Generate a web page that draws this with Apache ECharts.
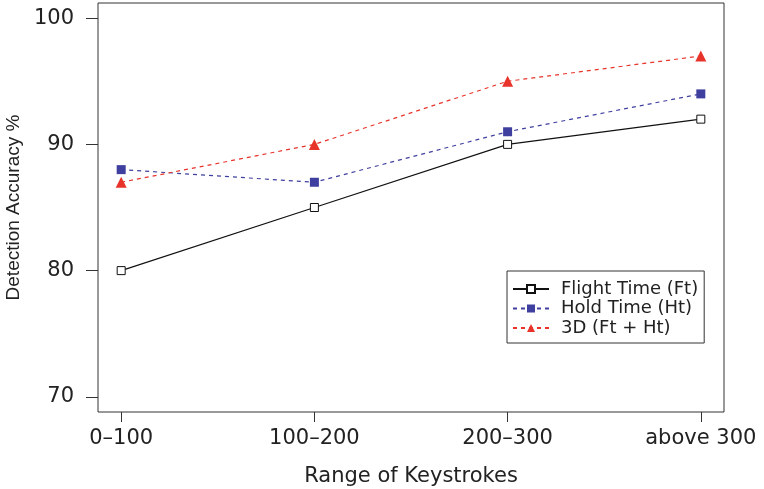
<!DOCTYPE html>
<html>
<head>
<meta charset="utf-8">
<script src="https://cdn.jsdelivr.net/npm/echarts@6/dist/echarts.min.js"></script>
<style>html,body{margin:0;padding:0;background:#fff}#c{width:764px;height:489px}</style>
</head>
<body>
<div id="c"></div>
<script>
const categories = ['0\u2013100', '100\u2013200', '200\u2013300', 'above 300'];
const flightTime = [80, 85, 90, 92];
const holdTime = [88, 87, 91, 94];
const threeD = [87, 90, 95, 97];
const yTicks = [70, 80, 90, 100];
const seriesNames = ['Flight Time (Ft)', 'Hold Time (Ht)', '3D (Ft + Ht)'];

const xPos = categories.map((c, i) => i + 1);
const toPts = arr => arr.map((v, i) => [xPos[i], v]);

const font = 'DejaVu Sans';
const chart = echarts.init(document.getElementById('c'), null, {renderer: 'canvas'});
chart.setOption({
  animation: false,
  backgroundColor: '#fff',
  grid: {left: 98, right: 40, top: 3, bottom: 77, outerBoundsMode: 'none', containLabel: false,
    show: true, borderColor: '#333', borderWidth: 1, backgroundColor: 'transparent'},
  xAxis: {
    type: 'value', min: 0.88, max: 4.12,
    name: 'Range of Keystrokes', nameLocation: 'middle', nameGap: 54,
    nameTextStyle: {fontFamily: font, fontSize: 21, color: '#222'},
    axisLine: {show: false},
    splitLine: {show: false},
    axisTick: {show: true, length: 10, lineStyle: {color: '#333'}, customValues: xPos},
    axisLabel: {margin: 16, fontFamily: font, fontSize: 21, color: '#222', customValues: xPos,
      formatter: v => categories[Math.round(v) - 1] || ''}
  },
  yAxis: {
    type: 'value', min: 68.8, max: 101.2,
    name: 'Detection Accuracy %', nameLocation: 'middle', nameGap: 66, nameRotate: 90,
    nameTextStyle: {fontFamily: 'Liberation Sans', fontSize: 19, color: '#222'},
    axisLine: {show: false},
    splitLine: {show: false},
    axisTick: {show: true, length: 12, lineStyle: {color: '#333'}, customValues: yTicks},
    axisLabel: {margin: 24, fontFamily: font, fontSize: 21, color: '#222', customValues: yTicks}
  },
  legend: {
    orient: 'vertical', left: 507, top: 271,
    padding: [9, 6, 6, 5],
    itemWidth: 36, itemHeight: 10, itemGap: 1.5,
    borderColor: '#333', borderWidth: 1,
    textStyle: {fontFamily: font, fontSize: 18, color: '#222', lineHeight: 18, padding: [0, 0, 0, 7]},
    data: seriesNames
  },
  series: [
    {name: seriesNames[0], type: 'line', data: toPts(flightTime), symbol: 'rect', symbolSize: 8,
     itemStyle: {color: '#fff', borderColor: '#111', borderWidth: 1},
     lineStyle: {color: '#111', width: 1.2}, z: 3},
    {name: seriesNames[1], type: 'line', data: toPts(holdTime), symbol: 'rect', symbolSize: 9,
     itemStyle: {color: '#3F3F9F'},
     lineStyle: {color: '#3F3F9F', width: 1.2, type: [4, 4]}, z: 2},
    {name: seriesNames[2], type: 'line', data: toPts(threeD), symbol: 'triangle', symbolSize: 11,
     itemStyle: {color: '#E8332A'},
     lineStyle: {color: '#E8332A', width: 1.2, type: [4, 4]}, z: 2}
  ]
});
</script>
</body>
</html>
